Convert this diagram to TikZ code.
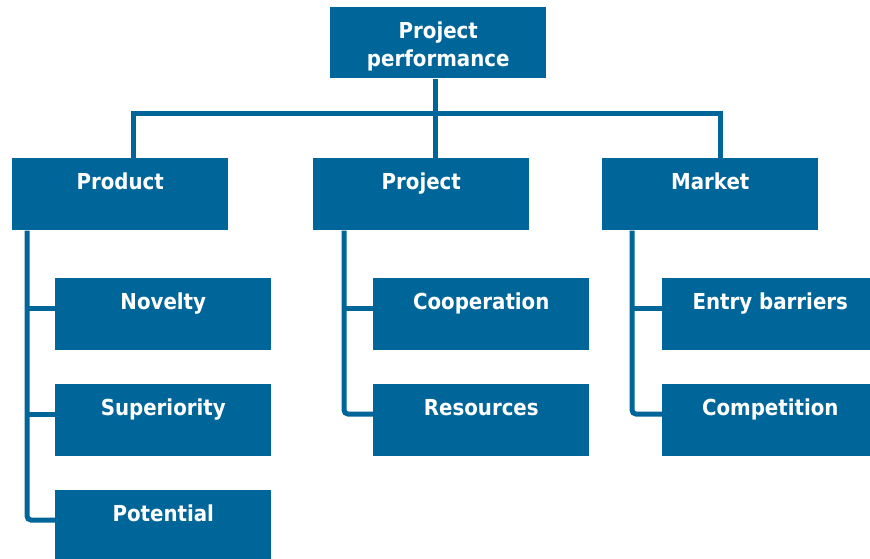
\documentclass[tikz,border=0pt]{standalone}
\usepackage{fontspec}
\setmainfont{DejaVu Sans Condensed}
\usetikzlibrary{calc}
\definecolor{boxblue}{RGB}{0,102,153}
\begin{document}
\begin{tikzpicture}[x=0.75pt,y=-0.75pt,
  basebox/.style={rectangle, fill=boxblue, text=white,
    font=\bfseries\fontsize{16.5}{21}\selectfont,
    minimum width=162pt, minimum height=54pt, inner sep=0pt, anchor=north west},
  box/.style={basebox, text height=23.25pt, text depth=30.75pt},
  link/.style={draw=boxblue, line width=3.75pt}]
\useasboundingbox (0,0) rectangle (870,558);
\begin{scope}
\clip (0,0) rectangle (870,558);

% root
\node[basebox, minimum height=53.25pt] (top) at (330,7) {};
\node[text=white, font=\bfseries\fontsize{16.5}{21}\selectfont, align=center, inner sep=0pt,
      anchor=base] (top-text) at ($(top.north)+(0,59)$) {Project\\performance};

% first level
\node[box] (product) at (12,158)  {Product};
\node[box] (project) at (313,158) {Project};
\node[box] (market)  at (602,158) {Market};

% second level
\node[box] (novelty)     at (55,278)  {Novelty};
\node[box] (superiority) at (55,384)  {Superiority};
\node[box] (potential)   at (55,490)  {Potential};
\node[box] (cooperation) at (373,278) {Cooperation};
\node[box] (resources)   at (373,384) {Resources};
\node[box] (entry)       at (662,278) {Entry barriers};
\node[box] (competition) at (662,384) {Competition};

% bus between root and first level
\coordinate (busL) at (133,113);
\coordinate (busR) at (720,113);
\coordinate (stemC) at (435,113);
\draw[link] (busL |- product.north) -- (busL) -- (busR) -- (busR |- market.north);
\draw[link] (stemC |- top.south) -- (stemC |- project.north);

% vertical rails of the second level
\coordinate (pv) at (27,0);
\coordinate (jv) at (344,0);
\coordinate (mv) at (632,0);

\foreach \n in {novelty,superiority,potential,cooperation,resources,entry,competition}
  \path ($(\n.north west)+(0,30)$) coordinate (\n-in);

\draw[link, rounded corners=3pt] (pv |- product.south) |- (potential-in);
\draw[link] (novelty-in) -- (novelty-in -| pv);
\draw[link] (superiority-in) -- (superiority-in -| pv);

\draw[link, rounded corners=3pt] (jv |- project.south) |- (resources-in);
\draw[link] (cooperation-in) -- (cooperation-in -| jv);

\draw[link, rounded corners=3pt] (mv |- market.south) |- (competition-in);
\draw[link] (entry-in) -- (entry-in -| mv);
\end{scope}
\end{tikzpicture}
\end{document}
